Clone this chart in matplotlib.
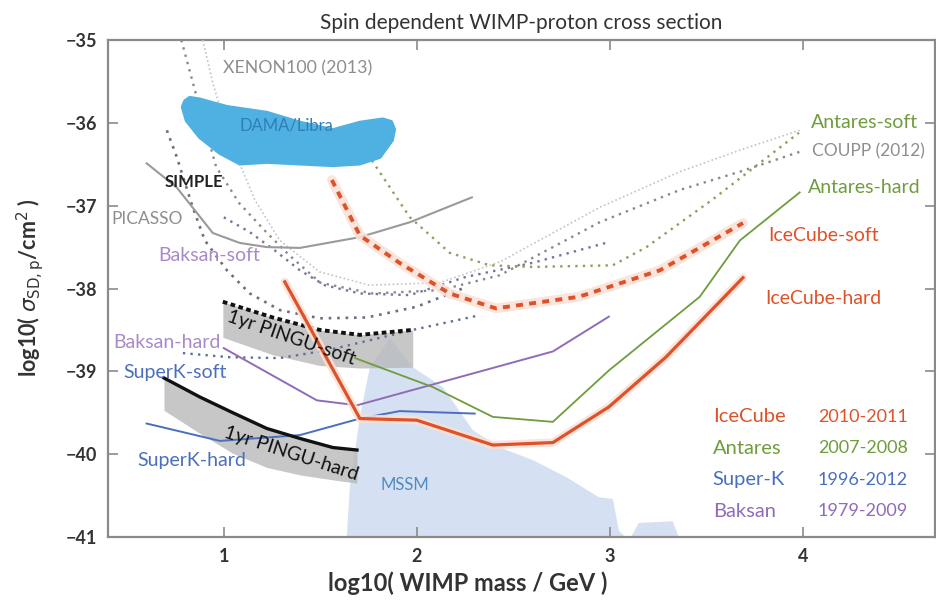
import matplotlib
matplotlib.use("Agg")
import matplotlib.pyplot as plt
from matplotlib.patches import Polygon

plt.rcParams['font.family'] = ['Lato', 'DejaVu Sans']

# ---------------- data (log10 mass [GeV], log10 sigma [cm^2]) ----------------
icecube_soft_x = [1.56, 1.705, 1.91, 2.17, 2.41, 2.84, 3.26, 3.69]
icecube_soft_y = [-36.69, -37.36, -37.69, -38.06, -38.24, -38.10, -37.78, -37.21]

icecube_hard_x = [1.316, 1.705, 2.0, 2.394, 2.705, 2.995, 3.29, 3.69]
icecube_hard_y = [-37.92, -39.57, -39.59, -39.89, -39.86, -39.43, -38.83, -37.87]

antares_hard_x = [1.68, 2.083, 2.394, 2.705, 2.995, 3.466, 3.674, 3.984]
antares_hard_y = [-38.84, -39.19, -39.55, -39.61, -38.99, -38.10, -37.42, -36.84]

antares_soft_x = [1.68, 1.964, 2.171, 2.378, 2.60, 3.015, 3.19, 3.53, 3.98]
antares_soft_y = [-36.15, -37.14, -37.57, -37.72, -37.74, -37.72, -37.50, -36.93, -36.12]

superk_hard_x = [0.6, 0.98, 1.394, 1.705, 1.912, 2.30]
superk_hard_y = [-39.63, -39.84, -39.77, -39.57, -39.48, -39.51]

superk_soft_x = [0.788, 1.031, 1.29, 1.549, 1.979, 2.311]
superk_soft_y = [-38.78, -38.83, -38.84, -38.74, -38.50, -38.33]

baksan_hard_x = [1.0, 1.482, 1.69, 2.705, 2.995]
baksan_hard_y = [-38.72, -39.35, -39.41, -38.76, -38.34]

baksan_soft_x = [1.0, 1.135, 1.264, 1.394, 1.523, 1.705, 1.964, 2.254, 2.601, 2.979]
baksan_soft_y = [-37.14, -37.32, -37.54, -37.78, -37.96, -38.06, -38.08, -37.86, -37.69, -37.45]

picasso_x = [0.601, 0.756, 0.943, 1.083, 1.223, 1.394, 1.705, 1.964, 2.285]
picasso_y = [-36.49, -36.78, -37.33, -37.45, -37.50, -37.51, -37.38, -37.20, -36.90]

coupp_x = [0.78, 0.86, 0.96, 1.08, 1.22, 1.34, 1.50, 1.77, 2.12, 2.43, 2.948, 3.363, 3.674, 3.984]
coupp_y = [-35.0, -35.69, -36.53, -36.97, -37.32, -37.60, -37.93, -38.06, -38.02, -37.84, -37.20, -36.81, -36.59, -36.35]

xenon_x = [0.891, 0.943, 1.031, 1.161, 1.29, 1.497, 1.756, 2.119, 2.43, 2.948, 3.363, 3.674, 3.984]
xenon_y = [-35.0, -35.52, -36.21, -36.93, -37.42, -37.80, -37.96, -37.93, -37.68, -37.02, -36.59, -36.33, -36.09]

simple_x = [0.705, 0.756, 0.839, 0.902, 1.016, 1.135, 1.29, 1.497, 1.741, 2.0, 2.259]
simple_y = [-36.09, -36.41, -37.02, -37.42, -37.78, -38.06, -38.26, -38.36, -38.35, -38.22, -37.98]

pingu_soft_x = [0.995, 1.254, 1.497, 1.705, 1.979]
pingu_soft_y = [-38.16, -38.35, -38.50, -38.56, -38.50]
pingu_soft_low = [-38.59, -38.80, -38.93, -38.96, -38.95]

pingu_hard_x = [0.69, 0.876, 1.047, 1.223, 1.394, 1.565, 1.69]
pingu_hard_y = [-39.08, -39.31, -39.50, -39.69, -39.81, -39.92, -39.95]
pingu_hard_low = [-39.47, -39.75, -39.99, -40.16, -40.25, -40.31, -40.35]

mssm_x = [1.637, 1.653, 1.705, 1.756, 1.86, 1.979, 2.135, 2.29, 2.43, 2.60, 2.777, 2.943,
          3.016, 3.047, 3.078, 3.11, 3.15, 3.326, 3.357]
mssm_y = [-41.0, -40.40, -39.55, -38.96, -38.60, -38.95, -39.19, -39.71, -39.92, -40.07, -40.28, -40.52,
          -40.54, -40.92, -41.0, -41.0, -40.83, -40.81, -41.0]

dama_x = [0.788, 0.80, 0.824, 0.876, 1.016, 1.223, 1.394, 1.565, 1.705, 1.824, 1.866, 1.882, 1.870, 1.808,
          1.705, 1.565, 1.394, 1.223, 1.083, 0.979, 0.876, 0.808]
dama_y = [-35.81, -35.74, -35.70, -35.72, -35.81, -35.88, -36.00, -36.09, -36.00, -35.96, -35.99, -36.08, -36.21, -36.41,
          -36.49, -36.51, -36.49, -36.47, -36.49, -36.36, -36.17, -35.97]

legend_names = ["IceCube", "Antares", "Super-K", "Baksan"]
legend_years = ["2010-2011", "2007-2008", "1996-2012", "1979-2009"]

xticks = [1, 2, 3, 4]
yticks = [-41, -40, -39, -38, -37, -36, -35]

# ---------------- colours ----------------
C_ICE = '#dd5228'
C_ANT = '#6f9c3c'
C_SK = '#4a6fbf'
C_BAK = '#8f6bb8'
C_BAK_T = '#a98ac9'
C_GRAY = '#8e8e8e'

fig = plt.figure(figsize=(9.36, 6.05), dpi=100)
ax = fig.add_axes([108/936, 1-537/605, 827/936, 497/605])
ax.set_xlim(0.4, 4.685)
ax.set_ylim(-41, -35)

# MSSM region
ax.add_patch(Polygon(list(zip(mssm_x, mssm_y)), closed=True, fc='#d5e1f2', ec='none', zorder=1))

# PINGU bands
ax.fill_between(pingu_soft_x, pingu_soft_y, pingu_soft_low, color='#b5b5b5', alpha=0.75, lw=0, zorder=2)
ax.fill_between(pingu_hard_x, pingu_hard_y, pingu_hard_low, color='#b5b5b5', alpha=0.75, lw=0, zorder=2)

dot = (0, (1, 2.2))
# dotted limits
ax.plot(xenon_x, xenon_y, color='#c4c4c4', lw=1.2, ls=(0, (1, 1.5)), zorder=3)
ax.plot(coupp_x, coupp_y, color='#8a8a8a', lw=1.7, ls=dot, zorder=3)
ax.plot(simple_x, simple_y, color='#6d6d80', lw=1.9, ls=dot, zorder=3)
ax.plot(baksan_soft_x, baksan_soft_y, color='#7d6f9e', lw=1.7, ls=dot, zorder=3)
ax.plot(superk_soft_x, superk_soft_y, color='#5f6f9a', lw=1.7, ls=dot, zorder=3)
ax.plot(antares_soft_x, antares_soft_y, color='#8aa060', lw=1.7, ls=dot, zorder=3)

# solid limits
ax.plot(picasso_x, picasso_y, color='#9a9a9a', lw=1.5, zorder=3)
ax.plot(baksan_hard_x, baksan_hard_y, color=C_BAK, lw=1.4, zorder=3)
ax.plot(superk_hard_x, superk_hard_y, color=C_SK, lw=1.4, zorder=3)
ax.plot(antares_hard_x, antares_hard_y, color=C_ANT, lw=1.3, zorder=3)

# PINGU lines
ax.plot(pingu_soft_x, pingu_soft_y, color='#111111', lw=2.8, ls=(0, (1.2, 0.9)), zorder=4)
ax.plot(pingu_hard_x, pingu_hard_y, color='#111111', lw=2.4, zorder=4)

# IceCube with glow
ax.plot(icecube_soft_x, icecube_soft_y, color='#fbe0d5', lw=7, alpha=0.85, solid_capstyle='round', zorder=4)
ax.plot(icecube_soft_x, icecube_soft_y, color=C_ICE, lw=2.8, ls=(0, (1.8, 1.6)), zorder=5)
ax.plot(icecube_hard_x, icecube_hard_y, color='#fbe0d5', lw=6, alpha=0.85, solid_capstyle='round', zorder=4)
ax.plot(icecube_hard_x, icecube_hard_y, color=C_ICE, lw=2.3, zorder=5)

# DAMA/Libra
ax.add_patch(Polygon(list(zip(dama_x, dama_y)), closed=True, fc='#4fb1e2', ec='#4fb1e2',
                     lw=3, joinstyle='round', zorder=6))

# ---------------- text labels ----------------
def lab(x, y, s, c, fontsize=14, **kw):
    ax.text(x, y, s, color=c, fontsize=fontsize, ha='left', va='center', zorder=7, **kw)

lab(0.995, -35.34, "XENON100 (2013)", C_GRAY, 12.8)
lab(1.083, -36.03, "DAMA/Libra", '#2f7fb7', 12)
lab(0.694, -36.71, "SIMPLE", '#222222', 12, fontweight='bold')
lab(0.42, -37.16, "PICASSO", C_GRAY, 12.5)
lab(0.658, -37.60, "Baksan-soft", C_BAK_T)
lab(0.425, -38.65, "Baksan-hard", C_BAK_T)
lab(0.482, -39.01, "SuperK-soft", C_SK)
lab(0.554, -40.08, "SuperK-hard", C_SK)
lab(1.813, -40.37, "MSSM", '#4f8cc2', 12)
lab(4.041, -36.00, "Antares-soft", C_ANT)
lab(4.047, -36.35, "COUPP (2012)", C_GRAY, 12.5)
lab(4.026, -36.78, "Antares-hard", C_ANT)
lab(3.819, -37.36, "IceCube-soft", C_ICE)
lab(3.803, -38.12, "IceCube-hard", C_ICE)

ax.text(1.35, -38.60, "1yr PINGU-soft", rotation=-19, ha='center', va='center', fontsize=14,
        color='#111111', zorder=7, rotation_mode='anchor')
ax.text(1.35, -39.99, "1yr PINGU-hard", rotation=-18, ha='center', va='center', fontsize=14,
        color='#111111', zorder=7, rotation_mode='anchor')

leg_cols = [C_ICE, C_ANT, C_SK, C_BAK]
leg_y = [-39.55, -39.93, -40.31, -40.69]
for name, yr, c, yy in zip(legend_names, legend_years, leg_cols, leg_y):
    lab(3.534, yy, name, c, 14.5)
    lab(4.078, yy, yr, c, 13)

# ---------------- axes styling ----------------
ax.set_xticks(xticks)
ax.set_yticks(yticks)
ax.set_xticklabels([str(v) for v in xticks])
ax.set_yticklabels(["\u2212%d" % abs(v) for v in yticks])
for sp in ax.spines.values():
    sp.set_color('#8a8a8a')
    sp.set_linewidth(1.6)
ax.tick_params(direction='in', length=7, width=1.2, color='#8a8a8a', top=True, right=True,
               labelsize=13, labelcolor='#333333', pad=8)
for t in ax.get_xticklabels() + ax.get_yticklabels():
    t.set_fontweight('bold')

ax.set_title("Spin dependent WIMP-proton cross section", fontsize=15, color='#333333', pad=8)
fig.text(468/936, 1-583/605, "log10( WIMP mass / GeV )", ha='center', va='center', fontsize=17,
         color='#333333', fontweight='bold')
fig.text(30/936, 1-288/605, r"log10( $\sigma_{\mathrm{SD,p}}$/cm$^2$ )", ha='center', va='center',
         rotation=90, fontsize=15.5, color='#333333', fontweight='bold')

fig.savefig("out.png", dpi=100)
